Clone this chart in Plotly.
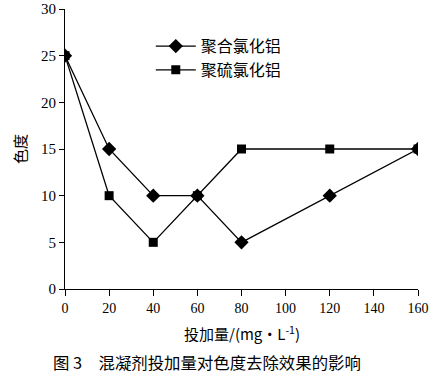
import plotly.graph_objects as go

dose = [0, 20, 40, 60, 80, 120, 160]
pac_color = [25, 15, 10, 10, 5, 10, 15]
pfs_color = [25, 10, 5, 10, 15, 15, 15]
series_names = ["聚合氯化铝", "聚硫氯化铝"]
x_ticks = [0, 20, 40, 60, 80, 100, 120, 140, 160]
y_ticks = [0, 5, 10, 15, 20, 25, 30]

cjk = "Noto Sans CJK SC"
serif = "Liberation Serif"

fig = go.Figure()
fig.add_trace(go.Scatter(x=dose, y=pac_color, name=series_names[0], mode="lines+markers",
                         line=dict(color="black", width=1.3),
                         marker=dict(symbol="diamond", size=11, color="black")))
fig.add_trace(go.Scatter(x=dose, y=pfs_color, name=series_names[1], mode="lines+markers",
                         line=dict(color="black", width=1.3),
                         marker=dict(symbol="square", size=9, color="black")))

fig.update_layout(
    width=437, height=375,
    margin=dict(l=65, r=19, t=9, b=86, autoexpand=False),
    paper_bgcolor="white", plot_bgcolor="white",
    showlegend=True,
    legend=dict(x=0.243, y=0.928, xanchor="left", yanchor="top",
                font=dict(family=cjk, size=16, color="black"),
                bgcolor="rgba(0,0,0,0)", tracegroupgap=4, itemwidth=40),
    xaxis=dict(range=[0, 160], tickvals=x_ticks, ticks="outside", ticklen=6,
               tickcolor="black", showline=True, linecolor="black", linewidth=1.2,
               showgrid=False, zeroline=False, automargin=False,
               tickfont=dict(family=serif, size=14, color="black")),
    yaxis=dict(range=[0, 30], tickvals=y_ticks, ticks="outside", ticklen=5,
               tickcolor="black", showline=True, linecolor="black", linewidth=1.2,
               showgrid=False, zeroline=False, automargin=False,
               tickfont=dict(family=serif, size=15, color="black"),
               title=dict(text="色度", font=dict(family=cjk, size=15, color="black"), standoff=10)),
)
fig.add_annotation(text="投加量/(mg·L<sup>-1</sup>)", xref="paper", yref="paper",
                   x=0.5, y=-0.157, xanchor="center", yanchor="middle", showarrow=False,
                   font=dict(family=cjk, size=15, color="black"))
fig.add_annotation(text="图 3　混凝剂投加量对色度去除效果的影响", xref="paper", yref="paper",
                   x=-0.04, y=-0.261, xanchor="left", yanchor="middle", showarrow=False,
                   font=dict(family=cjk, size=16.4, color="black"))

fig.write_html("out.html", config={"displayModeBar": False},
               post_script="document.body.style.margin='0';")
